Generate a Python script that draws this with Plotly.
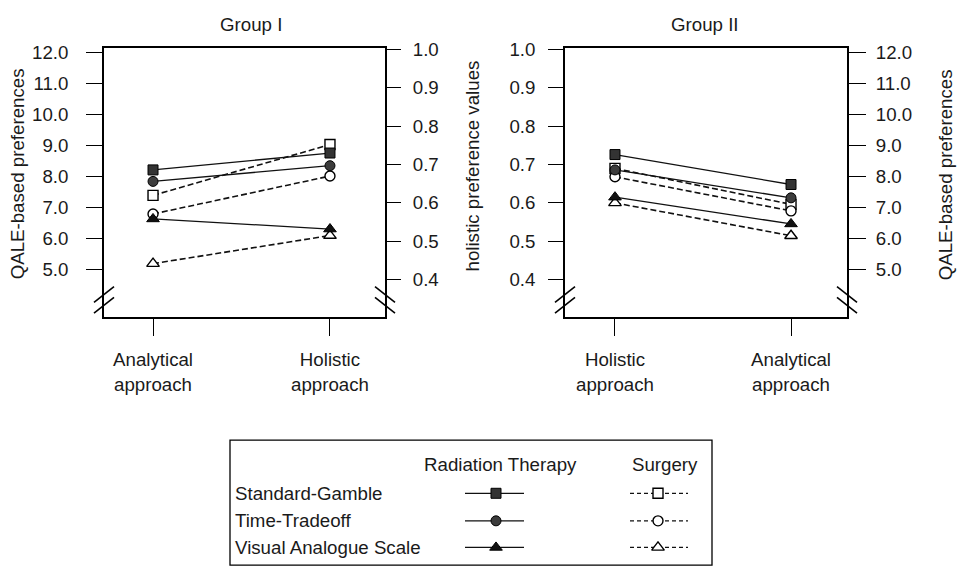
import plotly.graph_objects as go

W, H = 962, 574

# ---------------- data ----------------
methods = ["Standard-Gamble", "Time-Tradeoff", "Visual Analogue Scale"]
treatments = ["Radiation Therapy", "Surgery"]

# Group I : analytical approach -> QALE-based preferences (left axis)
g1_analytical_rad = [8.22, 7.85, 6.64]
g1_analytical_surg = [7.40, 6.80, 5.20]
# Group I : holistic approach -> holistic preference values (right axis)
g1_holistic_rad = [0.730, 0.697, 0.532]
g1_holistic_surg = [0.752, 0.670, 0.515]

# Group II : holistic approach -> holistic preference values (left axis)
g2_holistic_rad = [0.726, 0.686, 0.615]
g2_holistic_surg = [0.690, 0.668, 0.600]
# Group II : analytical approach -> QALE-based preferences (right axis)
g2_analytical_rad = [7.75, 7.32, 6.48]
g2_analytical_surg = [7.11, 6.90, 6.10]

qale_ticks = [5.0, 6.0, 7.0, 8.0, 9.0, 10.0, 11.0, 12.0]
qale_labels = ["5.0", "6.0", "7.0", "8.0", "9.0", "10.0", "11.0", "12.0"]
hol_ticks = [0.4, 0.5, 0.6, 0.7, 0.8, 0.9, 1.0]
hol_labels = ["0.4", "0.5", "0.6", "0.7", "0.8", "0.9", "1.0"]

g1_categories = ["Analytical<br>approach", "Holistic<br>approach"]
g2_categories = ["Holistic<br>approach", "Analytical<br>approach"]

# ---------------- styles / layout ----------------
FONT = "Liberation Sans, Arial, Helvetica, sans-serif"
TXT = "#1a1a1a"
FS = 18.7
symbols = ["square", "circle", "triangle-up"]
msizes = [10, 10, 11]
fills = ["#333333", "#3c3c3c", "#111111"]

QALE_RANGE = [3.478, 12.136]
HOL_RANGE = [0.3026, 1.0026]
XR1 = [-0.277, 1.311]
XR2 = [-0.284, 1.318]

BOX_T, BOX_B = 40, 313
P1_L, P1_R = 104, 385
P2_L, P2_R = 565, 847
LEG_L, LEG_R, LEG_T, LEG_B = 230, 712, 438, 565


def px(x):
    return x / W


def py(y):
    return 1 - y / H


def hol_to_qale(h):
    return QALE_RANGE[0] + (h - HOL_RANGE[0]) / (HOL_RANGE[1] - HOL_RANGE[0]) * (QALE_RANGE[1] - QALE_RANGE[0])


def qale_to_hol(q):
    return HOL_RANGE[0] + (q - QALE_RANGE[0]) / (QALE_RANGE[1] - QALE_RANGE[0]) * (HOL_RANGE[1] - HOL_RANGE[0])


def marker(i, filled):
    if filled:
        return dict(symbol=symbols[i], size=msizes[i], color=fills[i],
                    line=dict(color="#000000", width=1))
    return dict(symbol=symbols[i], size=msizes[i], color="#ffffff",
                line=dict(color="#000000", width=1.4))


def line_style(filled):
    if filled:
        return dict(color="#111111", width=1.3)
    return dict(color="#111111", width=1.6, dash="6px,3px")


fig = go.Figure()

# invisible anchors so that the secondary (right-hand) axes are rendered
fig.add_trace(go.Scatter(x=[1, 1, 1, 1, 1, 1], y=g1_holistic_rad + g1_holistic_surg, mode="markers",
                         xaxis="x", yaxis="y2", marker=dict(opacity=0), showlegend=False,
                         hoverinfo="skip"))
fig.add_trace(go.Scatter(x=[1, 1, 1, 1, 1, 1], y=g2_analytical_rad + g2_analytical_surg, mode="markers",
                         xaxis="x2", yaxis="y4", marker=dict(opacity=0), showlegend=False,
                         hoverinfo="skip"))

# Group I (plotted in QALE units of the left axis)
for filled, ana, hol in [(False, g1_analytical_surg, g1_holistic_surg),
                         (True, g1_analytical_rad, g1_holistic_rad)]:
    for i, m in enumerate(methods):
        fig.add_trace(go.Scatter(
            x=[0, 1], y=[ana[i], hol_to_qale(hol[i])], mode="lines+markers",
            xaxis="x", yaxis="y", line=line_style(filled), marker=marker(i, filled),
            showlegend=False, hoverinfo="skip", cliponaxis=False))

# Group II (plotted in holistic units of the left axis)
for filled, hol, ana in [(False, g2_holistic_surg, g2_analytical_surg),
                         (True, g2_holistic_rad, g2_analytical_rad)]:
    for i, m in enumerate(methods):
        fig.add_trace(go.Scatter(
            x=[0, 1], y=[hol[i], qale_to_hol(ana[i])], mode="lines+markers",
            xaxis="x2", yaxis="y3", line=line_style(filled), marker=marker(i, filled),
            showlegend=False, hoverinfo="skip", cliponaxis=False))

# Legend samples on a pixel overlay axis covering only the legend frame
LEG_ROWS = [492, 520, 547]
RAD_X = [465, 496, 524]
SUR_X = [630, 658, 688]
for i, m in enumerate(methods):
    fig.add_trace(go.Scatter(x=[RAD_X[0], RAD_X[2]], y=[LEG_ROWS[i]] * 2, mode="lines",
                             xaxis="x3", yaxis="y5", line=line_style(True),
                             showlegend=False, hoverinfo="skip"))
    fig.add_trace(go.Scatter(x=[RAD_X[1]], y=[LEG_ROWS[i]], mode="markers",
                             xaxis="x3", yaxis="y5", marker=marker(i, True),
                             showlegend=False, hoverinfo="skip"))
    fig.add_trace(go.Scatter(x=[SUR_X[0], SUR_X[2]], y=[LEG_ROWS[i]] * 2, mode="lines",
                             xaxis="x3", yaxis="y5",
                             line=dict(color="#111111", width=1.2, dash="4px,3px"),
                             showlegend=False, hoverinfo="skip"))
    fig.add_trace(go.Scatter(x=[SUR_X[1]], y=[LEG_ROWS[i]], mode="markers",
                             xaxis="x3", yaxis="y5", marker=marker(i, False),
                             showlegend=False, hoverinfo="skip"))

ydom = [py(BOX_B), py(BOX_T)]
common_x = dict(showgrid=False, zeroline=False, showline=True, mirror=True,
                linecolor="#000000", linewidth=1.6, ticks="outside", ticklen=17,
                tickwidth=1.4, tickcolor="#000000", tickvals=[0, 1],
                tickfont=dict(family=FONT, size=FS, color=TXT), ticklabelstandoff=8,
                fixedrange=True)
common_y = dict(showgrid=False, zeroline=False, ticks="outside", tickwidth=1.2,
                tickcolor="#000000", tickfont=dict(family=FONT, size=FS, color=TXT),
                fixedrange=True)

fig.update_layout(
    width=W, height=H, autosize=False,
    margin=dict(l=0, r=0, t=0, b=0),
    paper_bgcolor="white", plot_bgcolor="rgba(0,0,0,0)",
    font=dict(family=FONT, size=FS, color=TXT),
    xaxis=dict(common_x, domain=[px(P1_L), px(P1_R)], range=XR1, ticktext=g1_categories, anchor="y"),
    yaxis=dict(common_y, domain=ydom, range=QALE_RANGE, tickvals=qale_ticks, ticktext=qale_labels,
               ticklen=16, showline=True, mirror=True, linecolor="#000000", linewidth=1.8,
               ticklabelstandoff=14, anchor="x"),
    yaxis2=dict(common_y, domain=ydom, range=HOL_RANGE, tickvals=hol_ticks, ticktext=hol_labels,
                ticklen=15, overlaying="y", side="right", anchor="x", showline=False,
                ticklabelstandoff=8),
    xaxis2=dict(common_x, domain=[px(P2_L), px(P2_R)], range=XR2, ticktext=g2_categories, anchor="y3"),
    yaxis3=dict(common_y, domain=ydom, range=HOL_RANGE, tickvals=hol_ticks, ticktext=hol_labels,
                ticklen=15, showline=True, mirror=True, linecolor="#000000", linewidth=1.8,
                ticklabelstandoff=9, anchor="x2"),
    yaxis4=dict(common_y, domain=ydom, range=QALE_RANGE, tickvals=qale_ticks, ticktext=qale_labels,
                ticklen=18, overlaying="y3", side="right", anchor="x2", showline=False,
                ticklabelstandoff=6),
    xaxis3=dict(domain=[px(LEG_L), px(LEG_R)], range=[LEG_L, LEG_R], visible=False,
                fixedrange=True, anchor="y5"),
    yaxis5=dict(domain=[py(LEG_B), py(LEG_T)], range=[LEG_B, LEG_T], visible=False,
                fixedrange=True, anchor="x3"),
)

annotations = []


def text(x, y, s, angle=0, xanchor="center", size=FS):
    annotations.append(dict(x=px(x), y=py(y), xref="paper", yref="paper", text=s,
                            showarrow=False, textangle=angle, xanchor=xanchor, yanchor="middle",
                            font=dict(family=FONT, size=size, color=TXT)))


text(251, 16, "Group I")
text(705, 16, "Group II")
text(17, 168, "QALE-based preferences", angle=-90)
text(472, 160, "holistic preference values", angle=-90)
text(945, 169, "QALE-based preferences", angle=-90)

# legend texts
text(500, 463, treatments[0])
text(665, 463, treatments[1])
for i, m in enumerate(methods):
    text(233, LEG_ROWS[i], m, xanchor="left")

fig.update_layout(annotations=annotations)

shapes = []
# legend frame
shapes.append(dict(type="rect", xref="paper", yref="paper", x0=px(LEG_L), x1=px(LEG_R),
                   y0=py(LEG_B), y1=py(LEG_T), line=dict(color="#000000", width=1.3)))


# axis-break marks
def brk(xc, direction):
    for yc in (290, 301):
        shapes.append(dict(type="line", xref="paper", yref="paper",
                           x0=px(xc - 10), x1=px(xc + 10),
                           y0=py(yc + 8 * direction), y1=py(yc - 8 * direction),
                           line=dict(color="#000000", width=1.6)))


brk(P1_L, 1)
brk(P1_R, -1)
brk(P2_L, 1)
brk(P2_R, -1)
fig.update_layout(shapes=shapes)

fig.write_html("out.html")
